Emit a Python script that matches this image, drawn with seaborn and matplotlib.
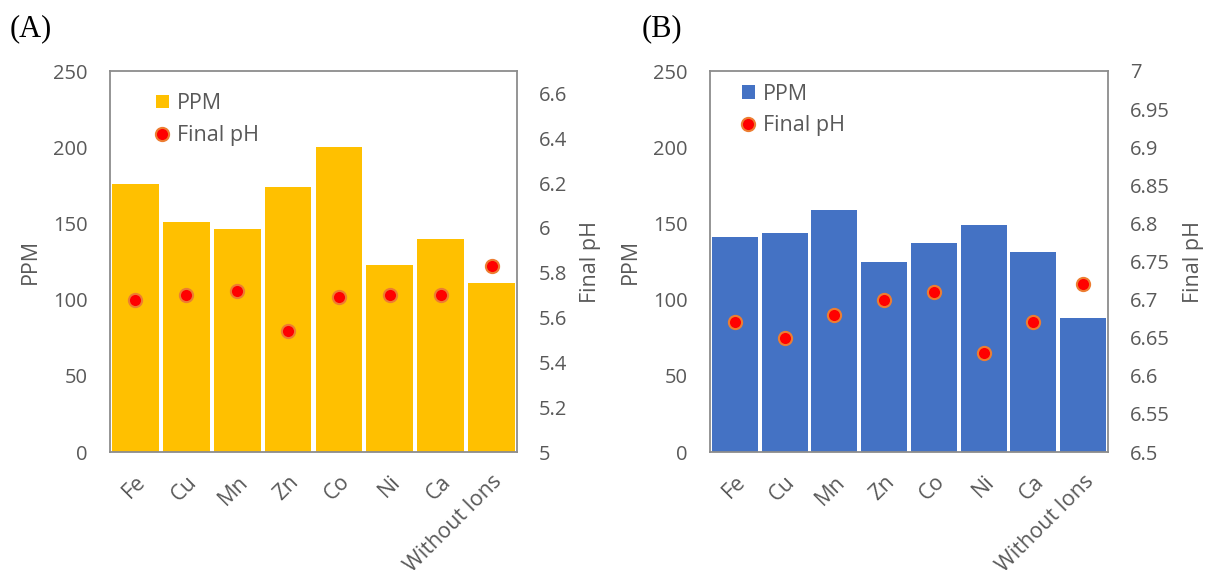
import matplotlib
matplotlib.use("Agg")
import matplotlib.pyplot as plt
import seaborn as sns
import pandas as pd
from matplotlib.patches import Patch
from matplotlib.lines import Line2D

# Metal ions tested and their measured results
ions = ["Fe", "Cu", "Mn", "Zn", "Co", "Ni", "Ca", "Without Ions"]
ppm_a = [176, 151, 146, 174, 200, 123, 140, 111]
ph_a = [5.68, 5.70, 5.72, 5.54, 5.69, 5.70, 5.70, 5.83]
ppm_b = [141, 144, 159, 125, 137, 149, 131, 88]
ph_b = [6.67, 6.65, 6.68, 6.70, 6.71, 6.63, 6.67, 6.72]

ppm_ticks = [0, 50, 100, 150, 200, 250]
ph_ticks_a = [5.0, 5.2, 5.4, 5.6, 5.8, 6.0, 6.2, 6.4, 6.6]
ph_ticks_b = [6.5, 6.55, 6.6, 6.65, 6.7, 6.75, 6.8, 6.85, 6.9, 6.95, 7.0]

sns.set_theme(style="white")
plt.rcParams["font.family"] = ["Open Sans", "DejaVu Sans"]

TEXT = "#595959"
SPINE = "#8C8C8C"
DOT = "#FF0000"
DOT_EDGE = "#ED7D31"

W, H = 1206, 570
fig = plt.figure(figsize=(W / 100, H / 100), dpi=100)


def axes_px(left, right, top, bottom):
    return fig.add_axes([left / W, 1 - bottom / H, (right - left) / W, (bottom - top) / H])


def panel(ax, ppm, ph, bar_color, ph_lim, ph_ticks, tag, tag_x, legend_anchor):
    df = pd.DataFrame({"ion": ions, "ppm": ppm, "ph": ph})
    sns.barplot(data=df, x="ion", y="ppm", ax=ax, color=bar_color, saturation=1,
                width=0.92, linewidth=0, order=ions)
    ax.set_ylim(0, 250)
    ax.set_yticks(ppm_ticks)

    ax2 = ax.twinx()
    sns.stripplot(data=df, x="ion", y="ph", ax=ax2, order=ions, jitter=False,
                  color=DOT, size=9.5, edgecolor=DOT_EDGE, linewidth=1.5)
    ax2.set_ylim(*ph_lim)
    ax2.set_yticks(ph_ticks)
    ax2.set_yticklabels([f"{v:g}" for v in ph_ticks])
    ax.set_xlim(-0.5, len(ions) - 0.5)

    ax.set_xticks(range(len(ions)))
    ax.set_xticklabels(ions, rotation=45, ha="right", rotation_mode="anchor")
    ax.tick_params(axis="x", length=0, pad=14, labelsize=15.5, labelcolor=TEXT)
    ax.tick_params(axis="y", length=0, pad=16, labelsize=14.5, labelcolor=TEXT)
    ax2.tick_params(axis="y", length=0, pad=16, labelsize=14.5, labelcolor=TEXT)

    ax.set_xlabel("")
    ax.set_ylabel("PPM", fontsize=15.5, color=TEXT, labelpad=9)
    ax2.set_ylabel("Final pH", fontsize=15.5, color=TEXT, labelpad=9)

    for s in ax.spines.values():
        s.set_color(SPINE)
        s.set_linewidth(1.3)
        s.set_visible(True)
    for s in ax2.spines.values():
        s.set_visible(False)

    handles = [
        Patch(facecolor=bar_color, edgecolor="none"),
        Line2D([], [], linestyle="none", marker="o", markersize=9.5,
               markerfacecolor=DOT, markeredgecolor=DOT_EDGE, markeredgewidth=1.5),
    ]
    leg = ax2.legend(handles, ["PPM", "Final pH"], loc="upper left",
                     bbox_to_anchor=legend_anchor, frameon=False, fontsize=15.5,
                     handlelength=0.6, handleheight=0.6, handletextpad=0.4,
                     labelspacing=0.5, borderpad=0, borderaxespad=0)
    for t in leg.get_texts():
        t.set_color(TEXT)

    fig.text(tag_x / W, 1 - 14 / H, tag, fontsize=22,
             family="Liberation Serif", color="black", va="top", ha="left")


ax_a = axes_px(110, 517, 71, 452)
panel(ax_a, ppm_a, ph_a, "#FFC000", (5.0, 6.7), ph_ticks_a, "(A)", 10, (0.112, 0.942))

ax_b = axes_px(710, 1108, 71, 452)
panel(ax_b, ppm_b, ph_b, "#4472C4", (6.5, 7.0), ph_ticks_b, "(B)", 642, (0.08, 0.967))

fig.savefig("out.png", dpi=100)
